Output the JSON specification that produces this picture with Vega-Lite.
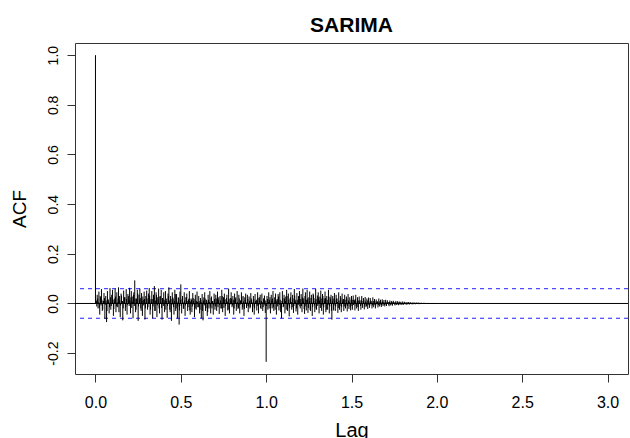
{
"$schema": "https://vega.github.io/schema/vega-lite/v6.json",
"autosize": "none",
"width": 553,
"height": 331,
"padding": {"left": 75, "top": 43, "right": 2, "bottom": 64},
"background": "white",
"title": {"text": "SARIMA", "fontSize": 21, "fontWeight": "bold", "font": "Liberation Sans", "color": "black", "baseline": "alphabetic", "offset": -10, "anchor": "middle"},
"datasets": {
"acfdata": [
{"lag":0,"acf":1.0},
{"lag":0.005,"acf":0.012},{"lag":0.01,"acf":0.035},{"lag":0.015,"acf":-0.02},{"lag":0.02,"acf":0.048},{"lag":0.025,"acf":-0.045},{"lag":0.03,"acf":0.025},{"lag":0.035,"acf":0.058},{"lag":0.04,"acf":-0.03},{"lag":0.045,"acf":0.01},{"lag":0.05,"acf":0.042},{"lag":0.055,"acf":-0.062},{"lag":0.06,"acf":0.03},{"lag":0.065,"acf":-0.075},{"lag":0.07,"acf":0.05},{"lag":0.075,"acf":0.015},{"lag":0.08,"acf":-0.04},{"lag":0.085,"acf":0.062},{"lag":0.09,"acf":-0.025},{"lag":0.095,"acf":0.035},{"lag":0.1,"acf":0.055},
{"lag":0.105,"acf":-0.05},{"lag":0.11,"acf":0.02},{"lag":0.115,"acf":0.06},{"lag":0.12,"acf":-0.035},{"lag":0.125,"acf":0.045},{"lag":0.13,"acf":-0.015},{"lag":0.135,"acf":0.065},{"lag":0.14,"acf":0.03},{"lag":0.145,"acf":-0.055},{"lag":0.15,"acf":0.04},{"lag":0.155,"acf":0.01},{"lag":0.16,"acf":-0.068},{"lag":0.165,"acf":0.052},{"lag":0.17,"acf":0.025},{"lag":0.175,"acf":-0.03},{"lag":0.18,"acf":0.058},{"lag":0.185,"acf":-0.045},{"lag":0.19,"acf":0.038},{"lag":0.195,"acf":0.015},{"lag":0.2,"acf":0.063},
{"lag":0.205,"acf":-0.04},{"lag":0.21,"acf":0.05},{"lag":0.215,"acf":0.028},{"lag":0.22,"acf":-0.06},{"lag":0.225,"acf":0.045},{"lag":0.23,"acf":0.093},{"lag":0.235,"acf":-0.035},{"lag":0.24,"acf":0.02},{"lag":0.245,"acf":0.055},{"lag":0.25,"acf":-0.07},{"lag":0.255,"acf":0.035},{"lag":0.26,"acf":0.06},{"lag":0.265,"acf":-0.02},{"lag":0.27,"acf":0.042},{"lag":0.275,"acf":-0.05},{"lag":0.28,"acf":0.015},{"lag":0.285,"acf":0.048},{"lag":0.29,"acf":-0.065},{"lag":0.295,"acf":0.03},{"lag":0.3,"acf":0.052},
{"lag":0.305,"acf":-0.025},{"lag":0.31,"acf":0.04},{"lag":0.315,"acf":0.062},{"lag":0.32,"acf":-0.045},{"lag":0.325,"acf":0.018},{"lag":0.33,"acf":0.05},{"lag":0.335,"acf":-0.06},{"lag":0.34,"acf":0.035},{"lag":0.345,"acf":0.07},{"lag":0.35,"acf":-0.03},{"lag":0.355,"acf":0.045},{"lag":0.36,"acf":-0.055},{"lag":0.365,"acf":0.025},{"lag":0.37,"acf":0.06},{"lag":0.375,"acf":-0.04},{"lag":0.38,"acf":0.03},{"lag":0.385,"acf":0.055},{"lag":0.39,"acf":-0.065},{"lag":0.395,"acf":0.02},{"lag":0.4,"acf":0.045},
{"lag":0.405,"acf":-0.035},{"lag":0.41,"acf":0.05},{"lag":0.415,"acf":0.01},{"lag":0.42,"acf":-0.058},{"lag":0.425,"acf":0.04},{"lag":0.43,"acf":0.065},{"lag":0.435,"acf":-0.025},{"lag":0.44,"acf":0.03},{"lag":0.445,"acf":-0.07},{"lag":0.45,"acf":0.045},{"lag":0.455,"acf":0.02},{"lag":0.46,"acf":-0.045},{"lag":0.465,"acf":0.055},{"lag":0.47,"acf":-0.03},{"lag":0.475,"acf":0.038},{"lag":0.48,"acf":-0.06},{"lag":0.485,"acf":0.025},{"lag":0.49,"acf":-0.085},{"lag":0.495,"acf":0.048},{"lag":0.5,"acf":0.077},
{"lag":0.505,"acf":-0.04},{"lag":0.51,"acf":0.03},{"lag":0.515,"acf":-0.02},{"lag":0.52,"acf":0.045},{"lag":0.525,"acf":-0.05},{"lag":0.53,"acf":0.025},{"lag":0.535,"acf":0.04},{"lag":0.54,"acf":-0.03},{"lag":0.545,"acf":0.015},{"lag":0.55,"acf":0.05},{"lag":0.555,"acf":-0.045},{"lag":0.56,"acf":0.02},{"lag":0.565,"acf":-0.035},{"lag":0.57,"acf":0.042},{"lag":0.575,"acf":0.01},{"lag":0.58,"acf":-0.055},{"lag":0.585,"acf":0.035},{"lag":0.59,"acf":-0.025},{"lag":0.595,"acf":0.048},{"lag":0.6,"acf":-0.015},
{"lag":0.605,"acf":0.03},{"lag":0.61,"acf":-0.04},{"lag":0.615,"acf":0.022},{"lag":0.62,"acf":-0.06},{"lag":0.625,"acf":0.038},{"lag":0.63,"acf":-0.068},{"lag":0.635,"acf":0.025},{"lag":0.64,"acf":0.045},{"lag":0.645,"acf":-0.03},{"lag":0.65,"acf":0.015},{"lag":0.655,"acf":-0.05},{"lag":0.66,"acf":0.035},{"lag":0.665,"acf":-0.02},{"lag":0.67,"acf":0.05},{"lag":0.675,"acf":-0.04},{"lag":0.68,"acf":0.028},{"lag":0.685,"acf":0.01},{"lag":0.69,"acf":-0.045},{"lag":0.695,"acf":0.04},{"lag":0.7,"acf":-0.025},
{"lag":0.705,"acf":0.035},{"lag":0.71,"acf":-0.03},{"lag":0.715,"acf":0.048},{"lag":0.72,"acf":0.015},{"lag":0.725,"acf":-0.042},{"lag":0.73,"acf":0.03},{"lag":0.735,"acf":-0.02},{"lag":0.74,"acf":0.055},{"lag":0.745,"acf":-0.035},{"lag":0.75,"acf":0.025},{"lag":0.755,"acf":0.04},{"lag":0.76,"acf":-0.05},{"lag":0.765,"acf":0.018},{"lag":0.77,"acf":0.035},{"lag":0.775,"acf":-0.028},{"lag":0.78,"acf":0.06},{"lag":0.785,"acf":-0.04},{"lag":0.79,"acf":0.022},{"lag":0.795,"acf":0.045},{"lag":0.8,"acf":-0.015},
{"lag":0.805,"acf":0.03},{"lag":0.81,"acf":-0.045},{"lag":0.815,"acf":0.04},{"lag":0.82,"acf":0.02},{"lag":0.825,"acf":-0.03},{"lag":0.83,"acf":0.05},{"lag":0.835,"acf":-0.022},{"lag":0.84,"acf":0.035},{"lag":0.845,"acf":-0.04},{"lag":0.85,"acf":0.012},{"lag":0.855,"acf":0.045},{"lag":0.86,"acf":-0.025},{"lag":0.865,"acf":0.03},{"lag":0.87,"acf":-0.05},{"lag":0.875,"acf":0.025},{"lag":0.88,"acf":0.04},{"lag":0.885,"acf":-0.018},{"lag":0.89,"acf":0.035},{"lag":0.895,"acf":-0.035},{"lag":0.9,"acf":0.028},
{"lag":0.905,"acf":-0.02},{"lag":0.91,"acf":0.042},{"lag":0.915,"acf":0.015},{"lag":0.92,"acf":-0.035},{"lag":0.925,"acf":0.03},{"lag":0.93,"acf":-0.045},{"lag":0.935,"acf":0.038},{"lag":0.94,"acf":0.01},{"lag":0.945,"acf":-0.028},{"lag":0.95,"acf":0.045},{"lag":0.955,"acf":-0.04},{"lag":0.96,"acf":0.025},{"lag":0.965,"acf":0.035},{"lag":0.97,"acf":-0.022},{"lag":0.975,"acf":0.04},{"lag":0.98,"acf":-0.03},{"lag":0.985,"acf":0.02},{"lag":0.99,"acf":0.032},{"lag":0.995,"acf":-0.038},{"lag":1.0,"acf":-0.235},
{"lag":1.005,"acf":0.03},{"lag":1.01,"acf":-0.025},{"lag":1.015,"acf":0.045},{"lag":1.02,"acf":0.015},{"lag":1.025,"acf":-0.04},{"lag":1.03,"acf":0.035},{"lag":1.035,"acf":-0.02},{"lag":1.04,"acf":0.05},{"lag":1.045,"acf":-0.03},{"lag":1.05,"acf":0.025},{"lag":1.055,"acf":0.04},{"lag":1.06,"acf":-0.045},{"lag":1.065,"acf":0.018},{"lag":1.07,"acf":0.038},{"lag":1.075,"acf":-0.028},{"lag":1.08,"acf":0.045},{"lag":1.085,"acf":-0.035},{"lag":1.09,"acf":-0.06},{"lag":1.095,"acf":0.05},{"lag":1.1,"acf":-0.015},
{"lag":1.105,"acf":0.035},{"lag":1.11,"acf":-0.04},{"lag":1.115,"acf":0.028},{"lag":1.12,"acf":0.055},{"lag":1.125,"acf":-0.03},{"lag":1.13,"acf":0.04},{"lag":1.135,"acf":-0.052},{"lag":1.14,"acf":0.02},{"lag":1.145,"acf":0.045},{"lag":1.15,"acf":-0.025},{"lag":1.155,"acf":0.035},{"lag":1.16,"acf":-0.038},{"lag":1.165,"acf":0.058},{"lag":1.17,"acf":0.015},{"lag":1.175,"acf":-0.032},{"lag":1.18,"acf":0.042},{"lag":1.185,"acf":-0.045},{"lag":1.19,"acf":0.03},{"lag":1.195,"acf":0.05},{"lag":1.2,"acf":-0.02},
{"lag":1.205,"acf":0.038},{"lag":1.21,"acf":-0.035},{"lag":1.215,"acf":0.06},{"lag":1.22,"acf":0.02},{"lag":1.225,"acf":-0.042},{"lag":1.23,"acf":0.045},{"lag":1.235,"acf":-0.028},{"lag":1.24,"acf":0.055},{"lag":1.245,"acf":-0.038},{"lag":1.25,"acf":0.025},{"lag":1.255,"acf":0.048},{"lag":1.26,"acf":-0.03},{"lag":1.265,"acf":0.035},{"lag":1.27,"acf":-0.05},{"lag":1.275,"acf":0.04},{"lag":1.28,"acf":0.022},{"lag":1.285,"acf":-0.035},{"lag":1.29,"acf":0.058},{"lag":1.295,"acf":-0.025},{"lag":1.3,"acf":0.032},
{"lag":1.305,"acf":0.045},{"lag":1.31,"acf":-0.04},{"lag":1.315,"acf":0.028},{"lag":1.32,"acf":0.052},{"lag":1.325,"acf":-0.03},{"lag":1.33,"acf":0.038},{"lag":1.335,"acf":-0.045},{"lag":1.34,"acf":0.02},{"lag":1.345,"acf":0.048},{"lag":1.35,"acf":-0.035},{"lag":1.355,"acf":0.03},{"lag":1.36,"acf":-0.025},{"lag":1.365,"acf":0.055},{"lag":1.37,"acf":-0.04},{"lag":1.375,"acf":0.025},{"lag":1.38,"acf":0.035},{"lag":1.385,"acf":-0.065},{"lag":1.39,"acf":0.03},{"lag":1.395,"acf":-0.028},{"lag":1.4,"acf":0.042},
{"lag":1.405,"acf":-0.03},{"lag":1.41,"acf":0.035},{"lag":1.415,"acf":0.02},{"lag":1.42,"acf":-0.038},{"lag":1.425,"acf":0.045},{"lag":1.43,"acf":-0.025},{"lag":1.435,"acf":0.03},{"lag":1.44,"acf":-0.035},{"lag":1.445,"acf":0.04},{"lag":1.45,"acf":0.015},{"lag":1.455,"acf":-0.03},{"lag":1.46,"acf":0.035},{"lag":1.465,"acf":-0.02},{"lag":1.47,"acf":0.028},{"lag":1.475,"acf":-0.032},{"lag":1.48,"acf":0.038},{"lag":1.485,"acf":-0.022},{"lag":1.49,"acf":0.025},{"lag":1.495,"acf":-0.028},{"lag":1.5,"acf":0.03},
{"lag":1.505,"acf":-0.025},{"lag":1.51,"acf":0.032},{"lag":1.515,"acf":0.015},{"lag":1.52,"acf":-0.028},{"lag":1.525,"acf":0.035},{"lag":1.53,"acf":-0.02},{"lag":1.535,"acf":0.025},{"lag":1.54,"acf":-0.03},{"lag":1.545,"acf":0.028},{"lag":1.55,"acf":0.012},{"lag":1.555,"acf":-0.025},{"lag":1.56,"acf":0.03},{"lag":1.565,"acf":-0.018},{"lag":1.57,"acf":0.022},{"lag":1.575,"acf":-0.024},{"lag":1.58,"acf":0.026},{"lag":1.585,"acf":-0.015},{"lag":1.59,"acf":0.02},{"lag":1.595,"acf":-0.022},{"lag":1.6,"acf":0.024},
{"lag":1.605,"acf":-0.018},{"lag":1.61,"acf":0.022},{"lag":1.615,"acf":0.01},{"lag":1.62,"acf":-0.02},{"lag":1.625,"acf":0.025},{"lag":1.63,"acf":-0.015},{"lag":1.635,"acf":0.018},{"lag":1.64,"acf":-0.02},{"lag":1.645,"acf":0.016},{"lag":1.65,"acf":0.008},{"lag":1.655,"acf":-0.016},{"lag":1.66,"acf":0.02},{"lag":1.665,"acf":-0.012},{"lag":1.67,"acf":0.015},{"lag":1.675,"acf":-0.014},{"lag":1.68,"acf":0.017},{"lag":1.685,"acf":-0.01},{"lag":1.69,"acf":0.014},{"lag":1.695,"acf":-0.012},{"lag":1.7,"acf":0.015},
{"lag":1.705,"acf":-0.01},{"lag":1.71,"acf":0.013},{"lag":1.715,"acf":0.006},{"lag":1.72,"acf":-0.011},{"lag":1.725,"acf":0.012},{"lag":1.73,"acf":-0.008},{"lag":1.735,"acf":0.01},{"lag":1.74,"acf":-0.009},{"lag":1.745,"acf":0.011},{"lag":1.75,"acf":0.005},{"lag":1.755,"acf":-0.008},{"lag":1.76,"acf":0.01},{"lag":1.765,"acf":-0.006},{"lag":1.77,"acf":0.009},{"lag":1.775,"acf":-0.007},{"lag":1.78,"acf":0.008},{"lag":1.785,"acf":-0.005},{"lag":1.79,"acf":0.007},{"lag":1.795,"acf":-0.006},{"lag":1.8,"acf":0.008},
{"lag":1.805,"acf":-0.005},{"lag":1.81,"acf":0.007},{"lag":1.815,"acf":0.004},{"lag":1.82,"acf":-0.005},{"lag":1.825,"acf":0.006},{"lag":1.83,"acf":-0.004},{"lag":1.835,"acf":0.006},{"lag":1.84,"acf":-0.004},{"lag":1.845,"acf":0.005},{"lag":1.85,"acf":0.003},{"lag":1.855,"acf":-0.004},{"lag":1.86,"acf":0.005},{"lag":1.865,"acf":-0.003},{"lag":1.87,"acf":0.004},{"lag":1.875,"acf":-0.003},{"lag":1.88,"acf":0.004},{"lag":1.885,"acf":-0.002},{"lag":1.89,"acf":0.004},{"lag":1.895,"acf":-0.003},{"lag":1.9,"acf":0.003},
{"lag":1.905,"acf":-0.002},{"lag":1.91,"acf":0.003},{"lag":1.915,"acf":0.002},{"lag":1.92,"acf":-0.002},{"lag":1.925,"acf":0.003},{"lag":1.93,"acf":-0.002},{"lag":1.935,"acf":0.002},{"lag":1.94,"acf":-0.001},{"lag":1.945,"acf":0.002},{"lag":1.95,"acf":0.001},{"lag":1.955,"acf":-0.001},{"lag":1.96,"acf":0.002},{"lag":1.965,"acf":-0.001},{"lag":1.97,"acf":0.001},{"lag":1.975,"acf":-0.001},{"lag":1.98,"acf":0.001},{"lag":1.985,"acf":0.0},{"lag":1.99,"acf":0.001},{"lag":1.995,"acf":-0.001},
{"lag":0.0025,"acf":0.008},{"lag":0.0075,"acf":-0.012},{"lag":0.0125,"acf":0.02},{"lag":0.0175,"acf":0.005},{"lag":0.0225,"acf":-0.018},{"lag":0.0275,"acf":0.03},{"lag":0.0325,"acf":-0.008},{"lag":0.0375,"acf":0.015},{"lag":0.0425,"acf":-0.025},{"lag":0.0475,"acf":0.01},{"lag":0.0525,"acf":0.022},{"lag":0.0575,"acf":-0.005},{"lag":0.0625,"acf":0.012},{"lag":0.0675,"acf":-0.03},{"lag":0.0725,"acf":0.018},{"lag":0.0775,"acf":0.006},{"lag":0.0825,"acf":-0.015},{"lag":0.0875,"acf":0.025},{"lag":0.0925,"acf":-0.01},{"lag":0.0975,"acf":0.004},
{"lag":0.1025,"acf":0.015},{"lag":0.1075,"acf":-0.022},{"lag":0.1125,"acf":0.008},{"lag":0.1175,"acf":0.028},{"lag":0.1225,"acf":-0.012},{"lag":0.1275,"acf":0.005},{"lag":0.1325,"acf":0.02},{"lag":0.1375,"acf":-0.035},{"lag":0.1425,"acf":0.012},{"lag":0.1475,"acf":-0.008},{"lag":0.1525,"acf":0.032},{"lag":0.1575,"acf":0.01},{"lag":0.1625,"acf":-0.02},{"lag":0.1675,"acf":0.006},{"lag":0.1725,"acf":0.025},{"lag":0.1775,"acf":-0.015},{"lag":0.1825,"acf":0.018},{"lag":0.1875,"acf":-0.005},{"lag":0.1925,"acf":0.03},{"lag":0.1975,"acf":-0.01},
{"lag":0.2025,"acf":0.012},{"lag":0.2075,"acf":0.025},{"lag":0.2125,"acf":-0.018},{"lag":0.2175,"acf":0.008},{"lag":0.2225,"acf":0.035},{"lag":0.2275,"acf":-0.01},{"lag":0.2325,"acf":0.02},{"lag":0.2375,"acf":-0.025},{"lag":0.2425,"acf":0.006},{"lag":0.2475,"acf":0.04},{"lag":0.2525,"acf":-0.012},{"lag":0.2575,"acf":0.015},{"lag":0.2625,"acf":0.022},{"lag":0.2675,"acf":-0.03},{"lag":0.2725,"acf":0.01},{"lag":0.2775,"acf":0.028},{"lag":0.2825,"acf":-0.008},{"lag":0.2875,"acf":0.018},{"lag":0.2925,"acf":-0.02},{"lag":0.2975,"acf":0.005},
{"lag":0.3025,"acf":0.02},{"lag":0.3075,"acf":-0.015},{"lag":0.3125,"acf":0.01},{"lag":0.3175,"acf":0.032},{"lag":0.3225,"acf":-0.025},{"lag":0.3275,"acf":0.008},{"lag":0.3325,"acf":0.018},{"lag":0.3375,"acf":-0.012},{"lag":0.3425,"acf":0.025},{"lag":0.3475,"acf":-0.03},{"lag":0.3525,"acf":0.012},{"lag":0.3575,"acf":0.035},{"lag":0.3625,"acf":-0.008},{"lag":0.3675,"acf":0.015},{"lag":0.3725,"acf":-0.02},{"lag":0.3775,"acf":0.028},{"lag":0.3825,"acf":0.006},{"lag":0.3875,"acf":-0.018},{"lag":0.3925,"acf":0.022},{"lag":0.3975,"acf":-0.01},
{"lag":0.4025,"acf":0.015},{"lag":0.4075,"acf":0.008},{"lag":0.4125,"acf":-0.025},{"lag":0.4175,"acf":0.02},{"lag":0.4225,"acf":-0.01},{"lag":0.4275,"acf":0.03},{"lag":0.4325,"acf":0.012},{"lag":0.4375,"acf":-0.035},{"lag":0.4425,"acf":0.018},{"lag":0.4475,"acf":-0.006},{"lag":0.4525,"acf":0.025},{"lag":0.4575,"acf":-0.015},{"lag":0.4625,"acf":0.01},{"lag":0.4675,"acf":0.038},{"lag":0.4725,"acf":-0.02},{"lag":0.4775,"acf":0.008},{"lag":0.4825,"acf":-0.012},{"lag":0.4875,"acf":0.022},{"lag":0.4925,"acf":-0.028},{"lag":0.4975,"acf":0.015},
{"lag":0.5025,"acf":-0.01},{"lag":0.5075,"acf":0.018},{"lag":0.5125,"acf":0.006},{"lag":0.5175,"acf":-0.022},{"lag":0.5225,"acf":0.012},{"lag":0.5275,"acf":-0.008},{"lag":0.5325,"acf":0.025},{"lag":0.5375,"acf":0.01},{"lag":0.5425,"acf":-0.015},{"lag":0.5475,"acf":0.02},{"lag":0.5525,"acf":-0.028},{"lag":0.5575,"acf":0.008},{"lag":0.5625,"acf":0.015},{"lag":0.5675,"acf":-0.012},{"lag":0.5725,"acf":0.022},{"lag":0.5775,"acf":-0.005},{"lag":0.5825,"acf":0.018},{"lag":0.5875,"acf":-0.02},{"lag":0.5925,"acf":0.01},{"lag":0.5975,"acf":0.006},
{"lag":0.6025,"acf":-0.015},{"lag":0.6075,"acf":0.01},{"lag":0.6125,"acf":-0.025},{"lag":0.6175,"acf":0.015},{"lag":0.6225,"acf":0.005},{"lag":0.6275,"acf":-0.03},{"lag":0.6325,"acf":0.012},{"lag":0.6375,"acf":-0.008},{"lag":0.6425,"acf":0.02},{"lag":0.6475,"acf":-0.018},{"lag":0.6525,"acf":0.008},{"lag":0.6575,"acf":-0.035},{"lag":0.6625,"acf":0.015},{"lag":0.6675,"acf":0.006},{"lag":0.6725,"acf":-0.012},{"lag":0.6775,"acf":0.022},{"lag":0.6825,"acf":-0.02},{"lag":0.6875,"acf":0.01},{"lag":0.6925,"acf":-0.008},{"lag":0.6975,"acf":0.018},
{"lag":0.7025,"acf":-0.012},{"lag":0.7075,"acf":0.02},{"lag":0.7125,"acf":0.008},{"lag":0.7175,"acf":-0.015},{"lag":0.7225,"acf":0.025},{"lag":0.7275,"acf":-0.006},{"lag":0.7325,"acf":0.012},{"lag":0.7375,"acf":-0.02},{"lag":0.7425,"acf":0.03},{"lag":0.7475,"acf":0.005},{"lag":0.7525,"acf":-0.018},{"lag":0.7575,"acf":0.015},{"lag":0.7625,"acf":-0.01},{"lag":0.7675,"acf":0.022},{"lag":0.7725,"acf":0.008},{"lag":0.7775,"acf":-0.025},{"lag":0.7825,"acf":0.018},{"lag":0.7875,"acf":-0.005},{"lag":0.7925,"acf":0.012},{"lag":0.7975,"acf":0.02},
{"lag":0.8025,"acf":-0.008},{"lag":0.8075,"acf":0.015},{"lag":0.8125,"acf":-0.02},{"lag":0.8175,"acf":0.01},{"lag":0.8225,"acf":0.025},{"lag":0.8275,"acf":-0.012},{"lag":0.8325,"acf":0.006},{"lag":0.8375,"acf":-0.018},{"lag":0.8425,"acf":0.02},{"lag":0.8475,"acf":-0.005},{"lag":0.8525,"acf":0.012},{"lag":0.8575,"acf":0.028},{"lag":0.8625,"acf":-0.015},{"lag":0.8675,"acf":0.008},{"lag":0.8725,"acf":-0.022},{"lag":0.8775,"acf":0.015},{"lag":0.8825,"acf":0.005},{"lag":0.8875,"acf":-0.01},{"lag":0.8925,"acf":0.018},{"lag":0.8975,"acf":-0.012},
{"lag":0.9025,"acf":0.01},{"lag":0.9075,"acf":-0.015},{"lag":0.9125,"acf":0.02},{"lag":0.9175,"acf":0.005},{"lag":0.9225,"acf":-0.012},{"lag":0.9275,"acf":0.018},{"lag":0.9325,"acf":-0.02},{"lag":0.9375,"acf":0.008},{"lag":0.9425,"acf":0.015},{"lag":0.9475,"acf":-0.01},{"lag":0.9525,"acf":0.022},{"lag":0.9575,"acf":-0.006},{"lag":0.9625,"acf":0.012},{"lag":0.9675,"acf":-0.018},{"lag":0.9725,"acf":0.01},{"lag":0.9775,"acf":0.005},{"lag":0.9825,"acf":-0.015},{"lag":0.9875,"acf":0.02},{"lag":0.9925,"acf":-0.008},{"lag":0.9975,"acf":0.012},
{"lag":1.0025,"acf":-0.01},{"lag":1.0075,"acf":0.018},{"lag":1.0125,"acf":0.006},{"lag":1.0175,"acf":-0.02},{"lag":1.0225,"acf":0.025},{"lag":1.0275,"acf":-0.008},{"lag":1.0325,"acf":0.012},{"lag":1.0375,"acf":0.02},{"lag":1.0425,"acf":-0.015},{"lag":1.0475,"acf":0.008},{"lag":1.0525,"acf":-0.025},{"lag":1.0575,"acf":0.015},{"lag":1.0625,"acf":0.01},{"lag":1.0675,"acf":-0.012},{"lag":1.0725,"acf":0.028},{"lag":1.0775,"acf":-0.005},{"lag":1.0825,"acf":0.015},{"lag":1.0875,"acf":-0.02},{"lag":1.0925,"acf":0.01},{"lag":1.0975,"acf":0.022},
{"lag":1.1025,"acf":-0.012},{"lag":1.1075,"acf":0.02},{"lag":1.1125,"acf":0.01},{"lag":1.1175,"acf":-0.025},{"lag":1.1225,"acf":0.03},{"lag":1.1275,"acf":-0.008},{"lag":1.1325,"acf":0.015},{"lag":1.1375,"acf":-0.018},{"lag":1.1425,"acf":0.025},{"lag":1.1475,"acf":0.006},{"lag":1.1525,"acf":-0.015},{"lag":1.1575,"acf":0.02},{"lag":1.1625,"acf":-0.01},{"lag":1.1675,"acf":0.032},{"lag":1.1725,"acf":0.008},{"lag":1.1775,"acf":-0.02},{"lag":1.1825,"acf":0.015},{"lag":1.1875,"acf":-0.006},{"lag":1.1925,"acf":0.028},{"lag":1.1975,"acf":-0.012},
{"lag":1.2025,"acf":0.018},{"lag":1.2075,"acf":-0.01},{"lag":1.2125,"acf":0.025},{"lag":1.2175,"acf":0.008},{"lag":1.2225,"acf":-0.022},{"lag":1.2275,"acf":0.03},{"lag":1.2325,"acf":-0.012},{"lag":1.2375,"acf":0.015},{"lag":1.2425,"acf":0.02},{"lag":1.2475,"acf":-0.018},{"lag":1.2525,"acf":0.01},{"lag":1.2575,"acf":-0.025},{"lag":1.2625,"acf":0.022},{"lag":1.2675,"acf":0.006},{"lag":1.2725,"acf":-0.015},{"lag":1.2775,"acf":0.035},{"lag":1.2825,"acf":-0.008},{"lag":1.2875,"acf":0.012},{"lag":1.2925,"acf":-0.02},{"lag":1.2975,"acf":0.018},
{"lag":1.3025,"acf":-0.01},{"lag":1.3075,"acf":0.025},{"lag":1.3125,"acf":0.012},{"lag":1.3175,"acf":-0.018},{"lag":1.3225,"acf":0.02},{"lag":1.3275,"acf":-0.008},{"lag":1.3325,"acf":0.03},{"lag":1.3375,"acf":-0.015},{"lag":1.3425,"acf":0.01},{"lag":1.3475,"acf":0.022},{"lag":1.3525,"acf":-0.025},{"lag":1.3575,"acf":0.015},{"lag":1.3625,"acf":-0.006},{"lag":1.3675,"acf":0.028},{"lag":1.3725,"acf":-0.012},{"lag":1.3775,"acf":0.018},{"lag":1.3825,"acf":-0.03},{"lag":1.3875,"acf":0.01},{"lag":1.3925,"acf":0.02},{"lag":1.3975,"acf":-0.008},
{"lag":1.4025,"acf":0.015},{"lag":1.4075,"acf":-0.012},{"lag":1.4125,"acf":0.02},{"lag":1.4175,"acf":0.006},{"lag":1.4225,"acf":-0.018},{"lag":1.4275,"acf":0.012},{"lag":1.4325,"acf":-0.01},{"lag":1.4375,"acf":0.022},{"lag":1.4425,"acf":-0.015},{"lag":1.4475,"acf":0.008},{"lag":1.4525,"acf":0.018},{"lag":1.4575,"acf":-0.012},{"lag":1.4625,"acf":0.015},{"lag":1.4675,"acf":-0.008},{"lag":1.4725,"acf":0.02},{"lag":1.4775,"acf":-0.01},{"lag":1.4825,"acf":0.012},{"lag":1.4875,"acf":0.006},{"lag":1.4925,"acf":-0.014},{"lag":1.4975,"acf":0.015},
{"lag":1.5025,"acf":-0.01},{"lag":1.5075,"acf":0.015},{"lag":1.5125,"acf":-0.006},{"lag":1.5175,"acf":0.012},{"lag":1.5225,"acf":0.018},{"lag":1.5275,"acf":-0.01},{"lag":1.5325,"acf":0.008},{"lag":1.5375,"acf":-0.014},{"lag":1.5425,"acf":0.012},{"lag":1.5475,"acf":0.006},{"lag":1.5525,"acf":-0.01},{"lag":1.5575,"acf":0.015},{"lag":1.5625,"acf":-0.008},{"lag":1.5675,"acf":0.01},{"lag":1.5725,"acf":0.012},{"lag":1.5775,"acf":-0.009},{"lag":1.5825,"acf":0.008},{"lag":1.5875,"acf":-0.01},{"lag":1.5925,"acf":0.012},{"lag":1.5975,"acf":-0.006},
{"lag":1.6025,"acf":0.008},{"lag":1.6075,"acf":-0.009},{"lag":1.6125,"acf":0.012},{"lag":1.6175,"acf":0.004},{"lag":1.6225,"acf":-0.008},{"lag":1.6275,"acf":0.01},{"lag":1.6325,"acf":-0.006},{"lag":1.6375,"acf":0.009},{"lag":1.6425,"acf":-0.008},{"lag":1.6475,"acf":0.005},{"lag":1.6525,"acf":0.008},{"lag":1.6575,"acf":-0.007},{"lag":1.6625,"acf":0.009},{"lag":1.6675,"acf":-0.005},{"lag":1.6725,"acf":0.007},{"lag":1.6775,"acf":-0.006},{"lag":1.6825,"acf":0.008},{"lag":1.6875,"acf":0.004},{"lag":1.6925,"acf":-0.006},{"lag":1.6975,"acf":0.007},
{"lag":1.7025,"acf":-0.005},{"lag":1.7075,"acf":0.006},{"lag":1.7125,"acf":0.003},{"lag":1.7175,"acf":-0.005},{"lag":1.7225,"acf":0.006},{"lag":1.7275,"acf":-0.004},{"lag":1.7325,"acf":0.005},{"lag":1.7375,"acf":-0.004},{"lag":1.7425,"acf":0.006},{"lag":1.7475,"acf":0.003},{"lag":1.7525,"acf":-0.004},{"lag":1.7575,"acf":0.005},{"lag":1.7625,"acf":-0.003},{"lag":1.7675,"acf":0.004},{"lag":1.7725,"acf":-0.003},{"lag":1.7775,"acf":0.005},{"lag":1.7825,"acf":-0.003},{"lag":1.7875,"acf":0.004},{"lag":1.7925,"acf":0.002},{"lag":1.7975,"acf":-0.003},
{"lag":1.8025,"acf":0.003},{"lag":1.8075,"acf":-0.003},{"lag":1.8125,"acf":0.003},{"lag":1.8175,"acf":0.002},{"lag":1.8225,"acf":-0.003},{"lag":1.8275,"acf":0.003},{"lag":1.8325,"acf":-0.002},{"lag":1.8375,"acf":0.003},{"lag":1.8425,"acf":-0.002},{"lag":1.8475,"acf":0.002},{"lag":1.8525,"acf":0.002},{"lag":1.8575,"acf":-0.002},{"lag":1.8625,"acf":0.002},{"lag":1.8675,"acf":-0.002},{"lag":1.8725,"acf":0.002},{"lag":1.8775,"acf":-0.001},{"lag":1.8825,"acf":0.002},{"lag":1.8875,"acf":0.001},{"lag":1.8925,"acf":-0.001},{"lag":1.8975,"acf":0.002},
{"lag":1.9025,"acf":-0.001},{"lag":1.9075,"acf":0.001},{"lag":1.9125,"acf":0.001},{"lag":1.9175,"acf":-0.001},{"lag":1.9225,"acf":0.001},{"lag":1.9275,"acf":-0.001},{"lag":1.9325,"acf":0.001},{"lag":1.9375,"acf":0.0},{"lag":1.9425,"acf":0.001},{"lag":1.9475,"acf":-0.001},{"lag":1.9525,"acf":0.001},{"lag":1.9575,"acf":0.0},{"lag":1.9625,"acf":0.001},{"lag":1.9675,"acf":-0.001},{"lag":1.9725,"acf":0.0},{"lag":1.9775,"acf":0.001},{"lag":1.9825,"acf":0.0},{"lag":1.9875,"acf":0.0},{"lag":1.9925,"acf":0.001},{"lag":1.9975,"acf":0.0}
],
"zeroline": [{"acf": 0}],
"bounds": [{"acf": 0.0595}, {"acf": -0.0595}]
},
"layer": [
{
"data": {"name": "zeroline"},
"mark": {"type": "rule", "color": "black", "strokeWidth": 1},
"encoding": {
"y": {"field": "acf", "type": "quantitative", "title": "ACF", "scale": {"domain": [-0.284, 1.049], "nice": false, "zero": false}}
}
},
{
"data": {"name": "bounds"},
"mark": {"type": "rule", "color": "#2020ff", "strokeWidth": 1, "strokeDash": [4, 4]},
"encoding": {
"y": {"field": "acf", "type": "quantitative", "title": "ACF", "scale": {"domain": [-0.284, 1.049], "nice": false, "zero": false}}
}
},
{
"data": {"name": "acfdata"},
"mark": {"type": "rule", "color": "black", "strokeWidth": 1},
"encoding": {
"x": {"field": "lag", "type": "quantitative", "title": "Lag", "scale": {"domain": [-0.12, 3.12], "nice": false, "zero": false},
  "axis": {"values": [0, 0.5, 1, 1.5, 2, 2.5, 3]}},
"y": {"field": "acf", "type": "quantitative", "title": "ACF", "scale": {"domain": [-0.284, 1.049], "nice": false, "zero": false},
  "axis": {"values": [-0.2, 0, 0.2, 0.4, 0.6, 0.8, 1.0]}},
"y2": {"datum": 0}
}
}
],
"config": {
"view": {"stroke": "#333333", "strokeWidth": 1},
"axis": {"domain": false, "grid": false, "tickColor": "#333333", "tickSize": 8, "labelColor": "black", "titleColor": "black", "labelFont": "Liberation Sans", "titleFont": "Liberation Sans", "titleFontWeight": "normal", "format": ".1f", "labelExpr": "replace(datum.label, '\u2212', '-')", "labelOverlap": false, "labelFlush": false},
"axisX": {"labelFontSize": 16, "labelPadding": 12, "titleFontSize": 20, "titleX": 276.5, "titleY": 62, "titleBaseline": "alphabetic", "titleAlign": "center"},
"axisY": {"labelFontSize": 14, "labelAngle": -90, "labelAlign": "center", "labelBaseline": "alphabetic", "labelPadding": 10, "titleFontSize": 19, "titleAngle": -90, "titleX": -50, "titleY": 165.5, "titleBaseline": "alphabetic", "titleAlign": "center"}
}
}
